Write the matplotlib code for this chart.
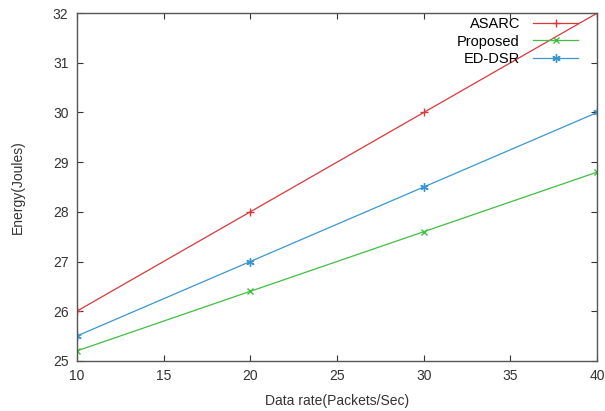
import matplotlib
matplotlib.use("Agg")
import matplotlib.pyplot as plt

rate = [10, 20, 30, 40]
asarc = [26, 28, 30, 32]
proposed = [25.2, 26.4, 27.6, 28.8]
ed_dsr = [25.5, 27, 28.5, 30]

plt.rcParams['font.family'] = ['Liberation Sans', 'DejaVu Sans']

fig = plt.figure(figsize=(6.05, 4.11), dpi=100)
ax = fig.add_axes([0.127, 0.122, 0.86, 0.846])

ax.plot(rate, asarc, color='#d9383a', marker='+', ms=6, lw=0.9, label='ASARC')
ax.plot(rate, proposed, color='#3fbf3f', marker='x', ms=5, lw=0.9, label='Proposed')
ax.plot(rate, ed_dsr, color='#3a96d0', marker=(6, 2, 0), ms=6, lw=0.9, label='ED-DSR')

ax.set_xlim(10, 40)
ax.set_ylim(25, 32)
ax.set_xticks([10, 15, 20, 25, 30, 35, 40])
ax.set_yticks(range(25, 33))
ax.tick_params(direction='in', top=True, right=True, labelsize=10, colors='#333333', length=4, pad=6)
for s in ax.spines.values():
    s.set_color('#555555')
    s.set_linewidth(1.0)

ax.set_xlabel('Data rate(Packets/Sec)', fontsize=10, color='#333333')
ax.set_ylabel('Energy(Joules)', fontsize=10, color='#333333')
ax.yaxis.set_label_coords(-0.1, 0.5)
ax.xaxis.set_label_coords(0.5, -0.095)

ax.legend(loc='upper right', bbox_to_anchor=(0.975, 1.006), frameon=False,
          markerfirst=False, fontsize=10.5, handlelength=3.1, handletextpad=0.9,
          labelspacing=0.25, borderaxespad=0, borderpad=0.4)

fig.savefig('out.png', dpi=100)
